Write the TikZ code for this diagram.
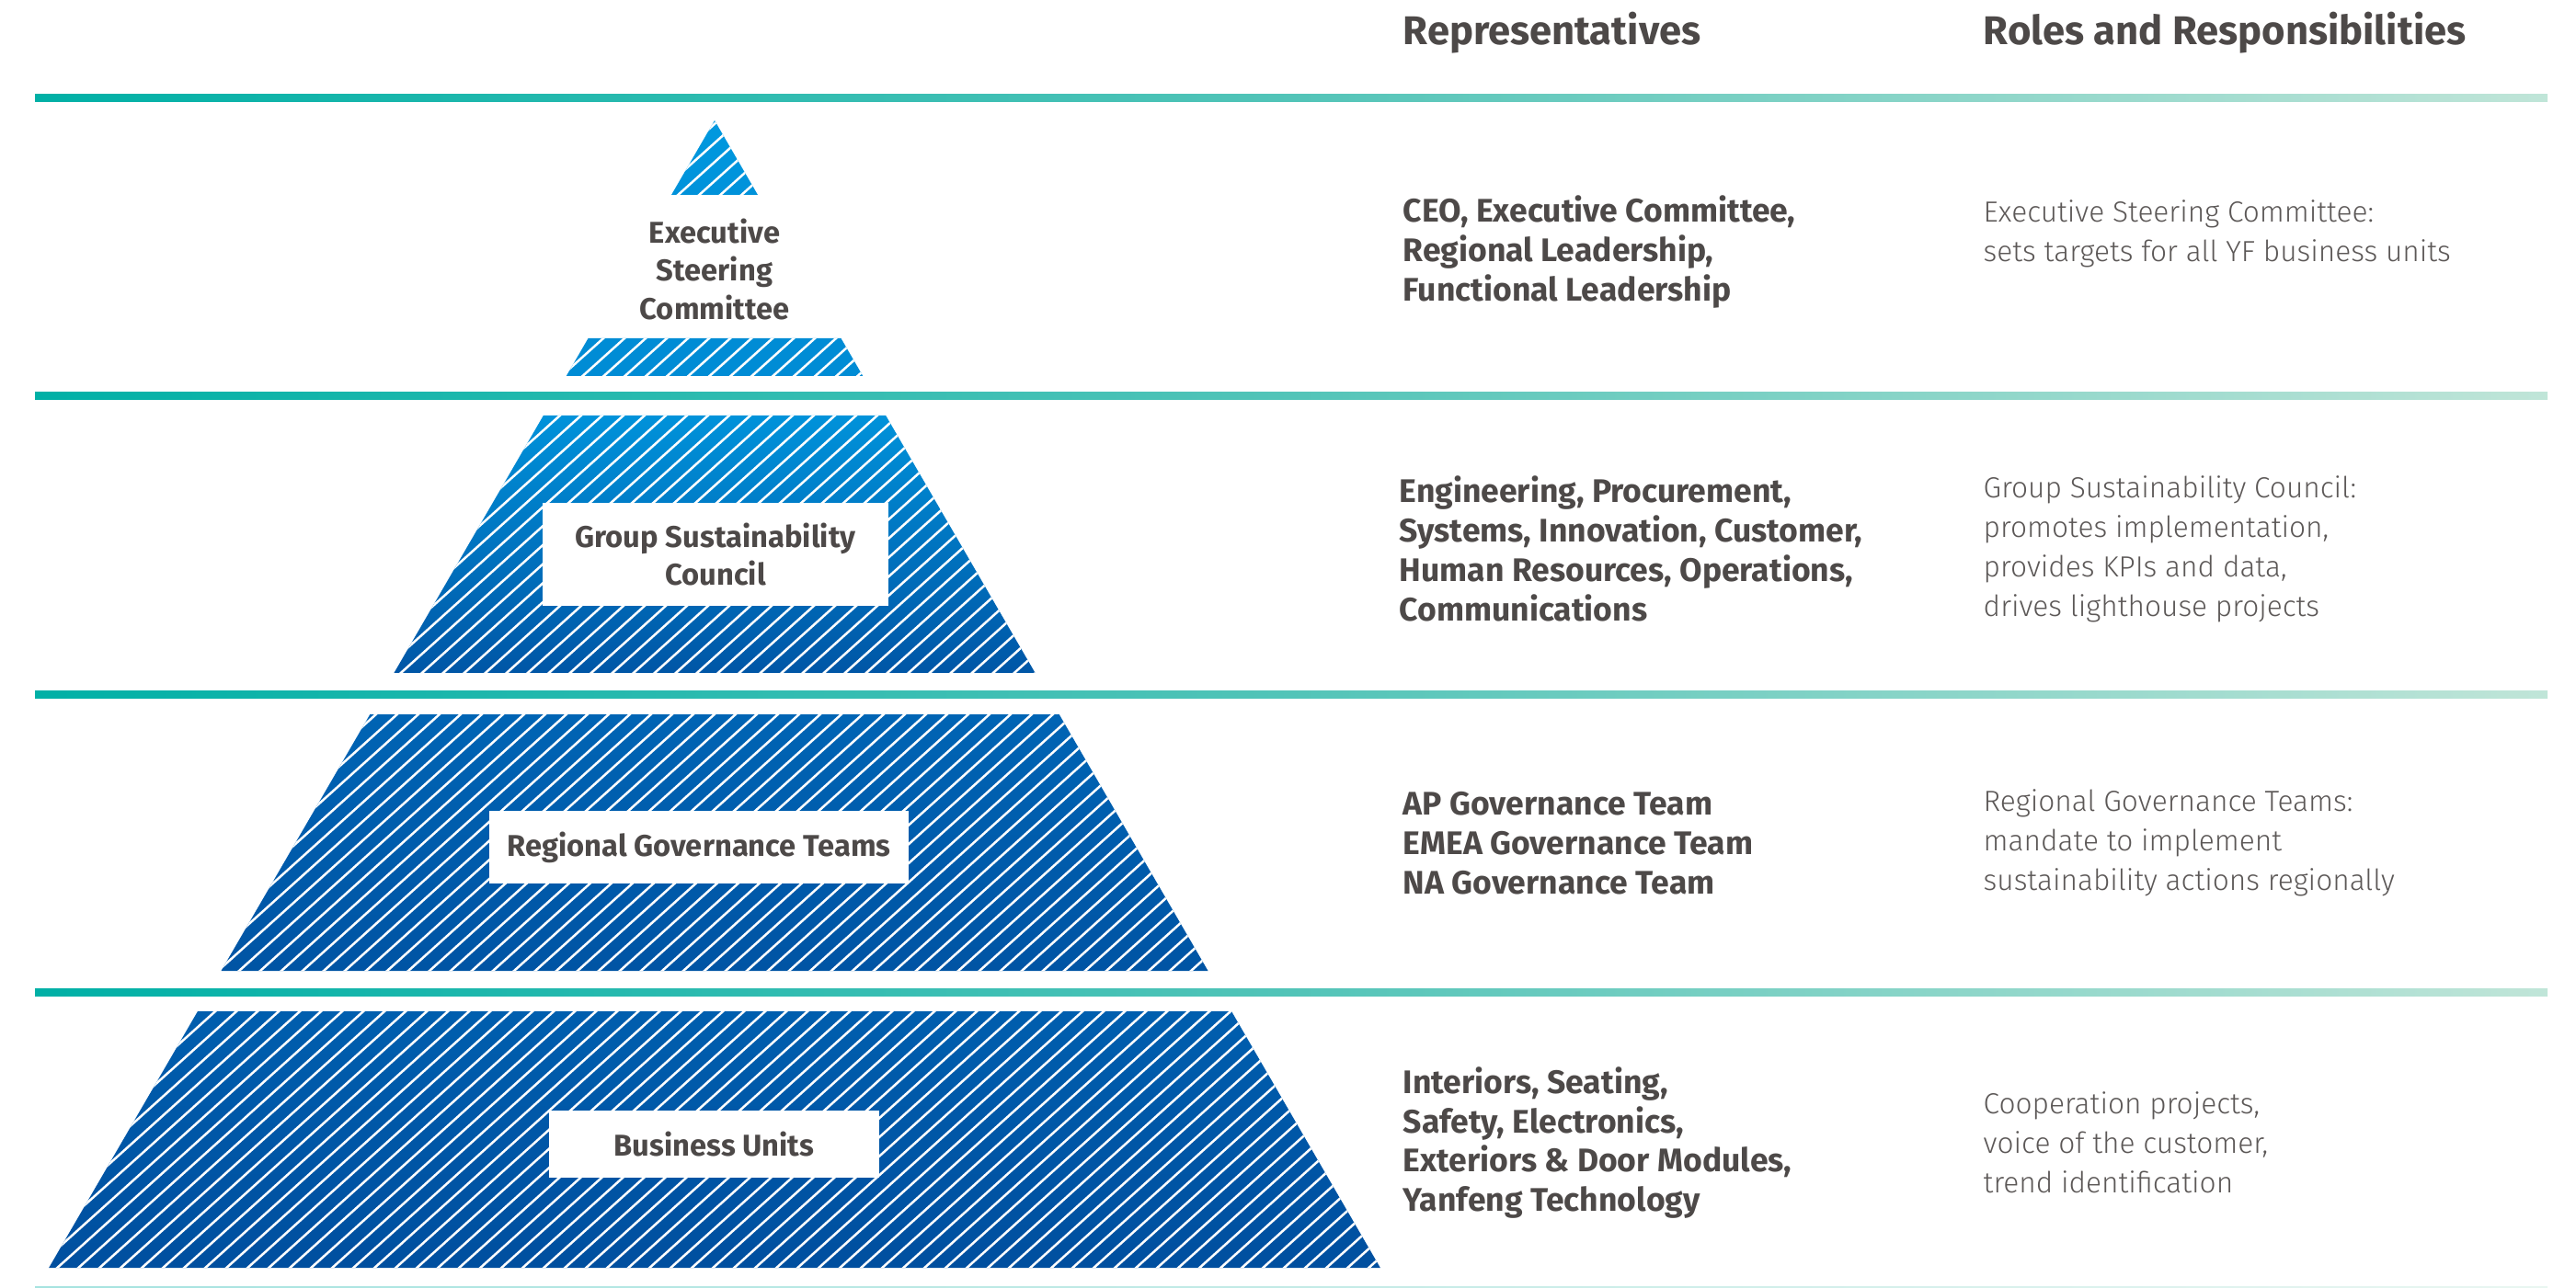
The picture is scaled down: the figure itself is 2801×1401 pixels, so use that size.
\documentclass[tikz,border=0pt]{standalone}
\usepackage{fontspec}
\setmainfont{Fira Sans}
\newfontfamily\lightfont{Fira Sans Light}
\usetikzlibrary{positioning}

\definecolor{textgray}{RGB}{77,73,72}
\definecolor{rolegray}{RGB}{92,88,87}
\definecolor{tealdark}{RGB}{0,176,166}
\definecolor{tealmid}{RGB}{82,196,184}
\definecolor{teallight}{RGB}{192,229,216}
\definecolor{blueA}{RGB}{0,153,223}
\definecolor{blueB}{RGB}{0,140,213}
\definecolor{blueC}{RGB}{0,146,218}
\definecolor{blueD}{RGB}{0,86,166}
\definecolor{blueE}{RGB}{0,100,180}
\definecolor{blueF}{RGB}{0,84,164}
\definecolor{blueG}{RGB}{0,94,174}
\definecolor{blueH}{RGB}{0,79,159}

\newcommand{\trap}[2]{({777-0.58*(#1-131)},#1) -- ({777+0.58*(#1-131)},#1) -- ({777+0.58*(#2-131)},#2) -- ({777-0.58*(#2-131)},#2) -- cycle}

\tikzset{
    sepline/.style={left color=tealdark, right color=teallight, middle color=tealmid},
    hatch/.style={white, line width=0.025cm},
    head/.style={font=\fontsize{12.4}{15}\selectfont\bfseries, text=textgray, anchor=west, inner sep=0},
    rep/.style={font=\fontsize{10.1}{12.2}\selectfont\bfseries, text=textgray, anchor=west, align=left, inner sep=0},
    role/.style={font=\lightfont\fontsize{9}{12.2}\selectfont, text=rolegray, anchor=west, align=left, inner sep=0},
    lab/.style={font=\fontsize{9.3}{11.8}\selectfont\bfseries, text=textgray, align=center, inner sep=0},
    labbox/.style={lab, fill=white}
}

\begin{document}
\begin{tikzpicture}[x=0.01cm, y=-0.01cm]
    \useasboundingbox (0,0) rectangle (2801,1401);
    %Lines
    \foreach \y in {107,431,756,1079}
        \shade[sepline] (38,\y-4) rectangle (2770,\y+4);
    \shade[sepline, opacity=0.35] (38,1399) rectangle (2770,1401);
    %Pyramid
    \shade[top color=blueA, bottom color=blueC] \trap{131}{212};
    \shade[top color=blueB, bottom color=blueB] \trap{368}{409};
    \shade[top color=blueC, bottom color=blueD] \trap{452}{732};
    \shade[top color=blueE, bottom color=blueF] \trap{777}{1056};
    \shade[top color=blueG, bottom color=blueH] \trap{1100}{1379};
    \begin{scope}
        \clip \trap{131}{212} \trap{368}{409} \trap{452}{732} \trap{777}{1056} \trap{1100}{1379};
        \foreach \x in {-720,-697,...,1520}
            \draw[hatch] (\x,1400) -- ({\x+1300/tan(42)},100);
    \end{scope}
    %Labels
    \node[lab] (exec) at (777,293) {Executive\\Steering\\Committee};
    \node[labbox, minimum width=3.76cm, minimum height=1.12cm] (council) at (778,603) {Group Sustainability\\Council};
    \node[labbox, minimum width=4.56cm, minimum height=0.79cm] (regional) at (760,921.5) {Regional Governance Teams};
    \node[labbox, minimum width=3.59cm, minimum height=0.73cm] (units) at (776.5,1244.5) {Business Units};
    %Text
    \node[head] (headrep) at (1525,36) {Representatives};
    \node[head] (headrole) at (2156,36) {Roles and Responsibilities};

    \node[rep] (rep1) at (1525,274) {CEO, Executive Committee,\\Regional Leadership,\\Functional Leadership};
    \node[role] (role1) at (2156,254) {Executive Steering Committee:\\sets targets for all YF business units};

    \node[rep] (rep2) at (1521,597) {Engineering, Procurement,\\Systems, Innovation, Customer,\\Human Resources, Operations,\\Communications};
    \node[role] (role2) at (2156,597) {Group Sustainability Council:\\promotes implementation,\\provides KPIs and data,\\drives lighthouse projects};

    \node[rep] (rep3) at (1525,917) {AP Governance Team\\EMEA Governance Team\\NA Governance Team};
    \node[role] (role3) at (2156,917) {Regional Governance Teams:\\mandate to implement\\sustainability actions regionally};

    \node[rep] (rep4) at (1525,1243) {Interiors, Seating,\\Safety, Electronics,\\Exteriors \& Door Modules,\\Yanfeng Technology};
    \node[role] (role4) at (2156,1243) {Cooperation projects,\\voice of the customer,\\trend identification};
\end{tikzpicture}
\end{document}
